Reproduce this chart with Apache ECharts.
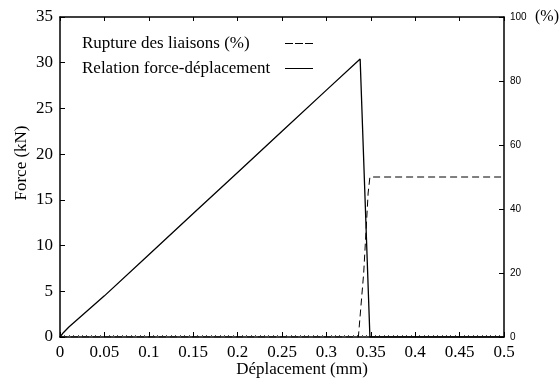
<!DOCTYPE html>
<html>
<head>
<meta charset="utf-8">
<script src="https://cdn.jsdelivr.net/npm/echarts@6/dist/echarts.min.js"></script>
<style>
  html, body { margin: 0; padding: 0; background: #fff; }
  #chart { width: 560px; height: 381px; }
</style>
</head>
<body>
<div id="chart"></div>
<script>
// déplacement (mm) / force (kN)
var forceX = [0, 0.004, 0.006, 0.01, 0.05, 0.1, 0.15, 0.2, 0.25, 0.3, 0.338, 0.349, 0.5];
var forceY = [0, 0.5, 0.6, 1.1, 4.5, 9.0, 13.5, 18.0, 22.5, 27.0, 30.4, 0, 0];
// déplacement (mm) / rupture des liaisons (%)
var ruptX = [0, 0.336, 0.342, 0.345, 0.347, 0.349, 0.5];
var ruptY = [0, 0, 20, 35, 45, 50, 50];

function pairs(xs, ys) {
  var out = [];
  for (var i = 0; i < xs.length; i++) out.push([xs[i], ys[i]]);
  return out;
}

var serif = 'Liberation Serif';
var myChart = echarts.init(document.getElementById('chart'));
myChart.setOption({
  animation: false,
  grid: { left: 60, right: 56, top: 17, bottom: 44, outerBoundsMode: 'none', containLabel: false },
  legend: {
    left: 77, top: 30, orient: 'vertical', align: 'right',
    itemWidth: 28, itemHeight: 10, itemGap: 8,
    formatter: '{t|{name}}',
    textStyle: {
      fontFamily: serif, fontSize: 17, color: '#000',
      rich: { t: { fontFamily: serif, fontSize: 17, color: '#000', width: 198, align: 'left' } }
    },
    data: [
      { name: 'Rupture des liaisons (%)', icon: 'path://M0,0H8V1H0Z M10,0H18V1H10Z M20,0H28V1H20Z' },
      { name: 'Relation force-déplacement', icon: 'path://M0,0H28V1H0Z' }
    ]
  },
  xAxis: [{
    type: 'value', min: 0, max: 0.5, interval: 0.05,
    name: 'Déplacement (mm)', nameLocation: 'middle', nameGap: 24, nameMoveOverlap: false,
    nameTextStyle: { fontFamily: serif, fontSize: 17, color: '#000', padding: [0, 0, 0, 40] },
    axisLine: { onZero: false, lineStyle: { color: '#000', width: 1.5 } },
    axisTick: { inside: true, length: 5, lineStyle: { color: '#000' } },
    minorTick: { show: true, splitNumber: 10, length: 2, lineStyle: { color: '#555' } },
    axisLabel: { fontFamily: serif, fontSize: 17, color: '#000', margin: 7,
      formatter: function (v) { return String(+v.toFixed(2)); } },
    splitLine: { show: false }
  }, {
    type: 'value', min: 0, max: 0.5, interval: 0.05, position: 'top',
    axisLine: { onZero: false, lineStyle: { color: '#000', width: 1.5 } },
    axisTick: { inside: true, length: 4, lineStyle: { color: '#000' } },
    axisLabel: { show: false }, splitLine: { show: false }
  }],
  yAxis: [{
    type: 'value', min: 0, max: 35, interval: 5,
    name: 'Force (kN)', nameLocation: 'middle', nameGap: 30, nameMoveOverlap: false,
    nameTextStyle: { fontFamily: serif, fontSize: 17, color: '#000', padding: [0, 0, 0, 28] },
    axisLine: { show: true, onZero: false, lineStyle: { color: '#000', width: 1.5 } },
    axisTick: { show: true, inside: true, length: 5, lineStyle: { color: '#000' } },
    axisLabel: { fontFamily: serif, fontSize: 17, color: '#000', margin: 7 },
    splitLine: { show: false }
  }, {
    type: 'value', min: 0, max: 100, interval: 20, position: 'right',
    name: '(%)', nameLocation: 'end', nameGap: 0,
    nameTextStyle: { fontFamily: serif, fontSize: 16, color: '#000', align: 'left', verticalAlign: 'middle', padding: [0, 0, 0, 31] },
    axisLine: { show: true, onZero: false, lineStyle: { color: '#000', width: 1.5 } },
    axisTick: { show: true, inside: true, length: 5, lineStyle: { color: '#000' } },
    axisLabel: { fontFamily: 'Liberation Sans', fontSize: 10, color: '#000', margin: 6 },
    splitLine: { show: false }
  }],
  series: [{
    name: 'Rupture des liaisons (%)', type: 'line', yAxisIndex: 1,
    data: pairs(ruptX, ruptY), showSymbol: false,
    lineStyle: { color: '#000', width: 1, type: [7, 4] }, itemStyle: { color: '#000' }
  }, {
    name: 'Relation force-déplacement', type: 'line', yAxisIndex: 0,
    data: pairs(forceX, forceY), showSymbol: false,
    lineStyle: { color: '#000', width: 1.3 }, itemStyle: { color: '#000' }
  }]
});
</script>
</body>
</html>
